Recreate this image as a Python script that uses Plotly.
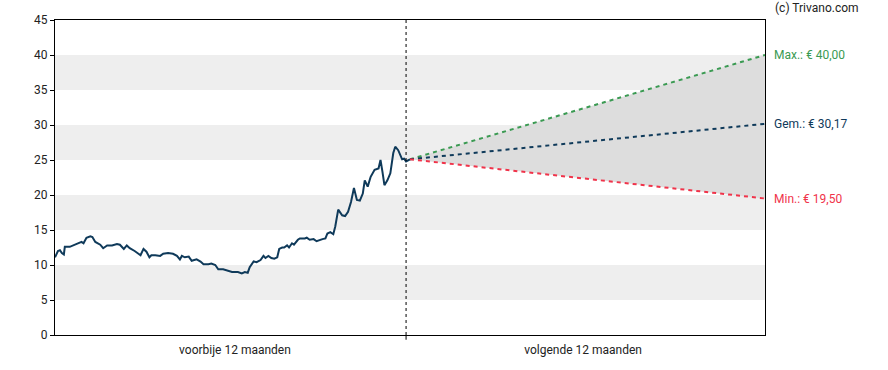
import plotly.graph_objects as go

# historical prices (day offset relative to today, price in EUR)
hist_days = [-357, -354, -352, -350, -348, -347, -342, -337, -333, -330, -328, -325, -321, -319,
             -316, -314, -311, -308, -304, -299, -294, -291, -287, -284, -281, -276, -270, -267,
             -264, -261, -259, -255, -250, -247, -242, -237, -233, -230, -228, -225, -221, -218,
             -213, -209, -206, -201, -198, -194, -191, -186, -181, -177, -174, -171, -167, -164,
             -161, -159, -155, -152, -148, -145, -143, -140, -137, -134, -131, -129, -126, -124,
             -121, -119, -116, -114, -110, -108, -103, -101, -98, -94, -91, -88, -85, -82,
             -80, -77, -74, -72, -69, -65, -62, -59, -56, -53, -50, -47, -44, -42,
             -39, -36, -32, -28, -26, -24, -22, -19, -16, -13, -11, -8, -6, -4, -2, 0, 4]
hist_prices = [11.1, 12.0, 12.1, 11.7, 11.5, 12.6, 12.6, 12.9, 13.1, 13.3, 13.1, 13.9, 14.1, 14.0,
               13.3, 13.1, 12.9, 12.4, 12.8, 12.8, 13.0, 12.9, 12.3, 12.8, 12.4, 12.0, 11.4, 12.3,
               11.9, 11.1, 11.4, 11.4, 11.3, 11.6, 11.7, 11.6, 11.3, 10.8, 11.3, 11.1, 11.2, 10.6,
               10.8, 10.5, 10.1, 10.1, 10.2, 10.0, 9.4, 9.4, 9.2, 9.0, 9.0, 9.0, 8.8, 9.0,
               8.9, 9.7, 10.5, 10.4, 10.7, 11.3, 11.0, 11.3, 11.0, 10.9, 11.1, 12.3, 12.5, 12.5,
               12.8, 12.5, 13.1, 12.9, 13.6, 13.8, 13.8, 13.9, 13.6, 13.7, 13.4, 13.6, 13.7, 13.8,
               14.5, 14.7, 14.4, 15.5, 17.9, 17.1, 17.0, 17.6, 19.0, 21.0, 19.3, 19.2, 20.2, 22.1,
               21.2, 22.6, 23.6, 23.8, 25.0, 23.3, 21.4, 22.1, 23.1, 26.0, 26.9, 26.4, 25.7, 25.1,
               25.2, 24.8, 25.1]
assert len(hist_days) == len(hist_prices)

# forecast (start and end of the 12 month horizon)
fc_days = [4, 365]
fc_max = [25.1, 40.00]
fc_avg = [25.1, 30.17]
fc_min = [25.1, 19.50]

labels = ["Max.: € 40,00", "Gem.: € 30,17", "Min.: € 19,50"]
y_ticks = [0, 5, 10, 15, 20, 25, 30, 35, 40, 45]
bands = [(5, 10), (15, 20), (25, 30), (35, 40)]
x_labels = ["voorbije 12 maanden", "volgende 12 maanden"]
x_label_pos = [-174, 180]

NAVY = "#0f3a5a"
GREEN = "#3a9a52"
RED = "#f0334a"

fig = go.Figure()

fig.add_trace(go.Scatter(x=fc_days, y=fc_min, mode="lines", line=dict(width=0),
                         showlegend=False, hoverinfo="skip"))
fig.add_trace(go.Scatter(x=fc_days, y=fc_max, mode="lines", line=dict(width=0),
                         fill="tonexty", fillcolor="#dddddd",
                         showlegend=False, hoverinfo="skip"))
fig.add_trace(go.Scatter(x=hist_days, y=hist_prices, mode="lines",
                         line=dict(color=NAVY, width=2), showlegend=False))
for ys, col in [(fc_max, GREEN), (fc_avg, NAVY), (fc_min, RED)]:
    fig.add_trace(go.Scatter(x=fc_days, y=ys, mode="lines",
                             line=dict(color=col, width=2, dash="4px,4px"), showlegend=False))

shapes = []
for lo, hi in bands:
    shapes.append(dict(type="rect", xref="paper", yref="y", x0=0, x1=1, y0=lo, y1=hi,
                       fillcolor="#eeeeee", line=dict(width=0), layer="below"))
shapes.append(dict(type="line", xref="x", yref="paper", x0=0, x1=0, y0=0, y1=1,
                   line=dict(color="black", width=1, dash="dot")))
shapes.append(dict(type="line", xref="x", yref="paper", x0=0, x1=0, y0=0, y1=-0.015,
                   line=dict(color="black", width=1)))
fig.update_layout(shapes=shapes)

annotations = []
for lab, ys, col in zip(labels, [fc_max, fc_avg, fc_min], [GREEN, NAVY, RED]):
    annotations.append(dict(x=1, xref="paper", xanchor="left", xshift=7, y=ys[-1], yref="y",
                            text=lab, showarrow=False, font=dict(color=col, size=12)))
annotations.append(dict(x=1.011, xref="paper", xanchor="left", y=1.0, yref="paper",
                        yanchor="middle", yshift=12, text="(c) Trivano.com", showarrow=False,
                        font=dict(color="#222222", size=12)))
fig.update_layout(annotations=annotations)

fig.update_layout(
    width=888, height=370,
    margin=dict(l=55, r=123, t=20, b=35, autoexpand=False),
    paper_bgcolor="white", plot_bgcolor="white",
    font=dict(family="Roboto", size=12, color="#222222"),
    xaxis=dict(range=[-357, 365], tickvals=x_label_pos, ticktext=x_labels,
               ticks="", showgrid=False, zeroline=False, showline=True, automargin=False,
               linecolor="black", linewidth=1, mirror=True, ticklabelstandoff=4),
    yaxis=dict(range=[0, 45], tickvals=y_ticks, ticks="outside", ticklen=4, automargin=False,
               tickcolor="black", showgrid=False, zeroline=False, showline=True,
               linecolor="black", linewidth=1, mirror=True),
)

fig.write_html("out.html", config={"displayModeBar": False},
               post_script="document.body.style.margin='0';")
